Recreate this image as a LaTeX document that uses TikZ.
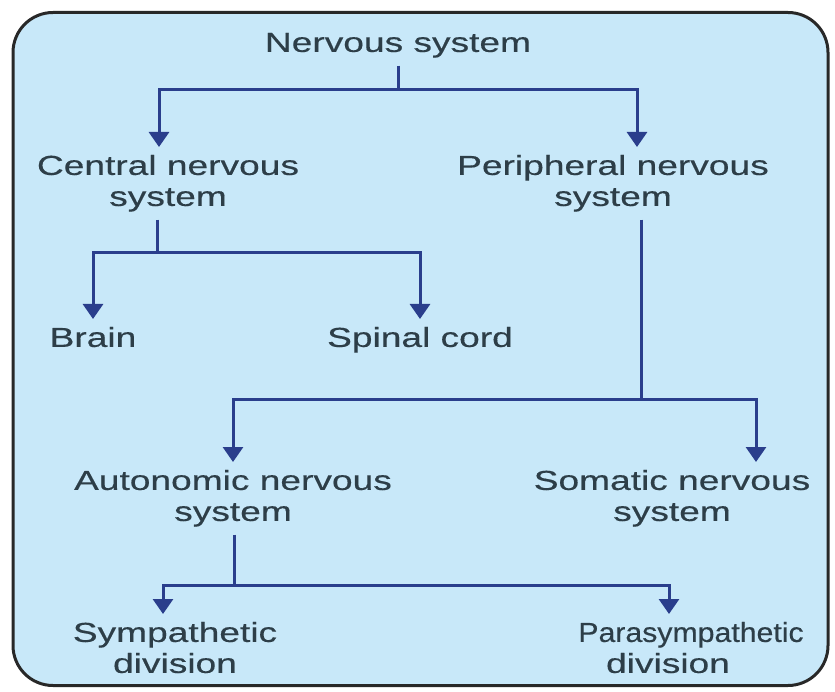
\documentclass[tikz,border=0pt]{standalone}
\usepackage{fontspec}
\setmainfont{Liberation Sans}[FakeStretch=1.35, FakeBold=0.4]
\newfontfamily\narrowfont{Liberation Sans}[FakeStretch=1.1, FakeBold=0.4]
\usetikzlibrary{arrows.meta}

\definecolor{panelblue}{RGB}{200,232,249}
\definecolor{framegray}{RGB}{40,40,40}
\definecolor{linkblue}{RGB}{42,62,140}
\definecolor{textslate}{RGB}{45,62,72}

\tikzset{
term/.style={inner sep=0pt, outer sep=8pt, align=center, text=textslate, anchor=north},
link/.style={draw=linkblue, line width=3pt},
branch/.style={link, -{Triangle[width=20pt,length=15pt]}}
}

\begin{document}
\begin{tikzpicture}[x=1pt, y=-1pt, font=\fontsize{27.5pt}{31pt}\selectfont]

\useasboundingbox (0,0) rectangle (835,692);

%%%%%%%%%%%%%%%%%%%%%%%%%%%%%%%%%%%%%%%%%%%%%%%%%%%%%%%%%%%%%%
% OUTER PANEL
%%%%%%%%%%%%%%%%%%%%%%%%%%%%%%%%%%%%%%%%%%%%%%%%%%%%%%%%%%%%%%

\node[
draw=framegray,
line width=3pt,
rounded corners=40pt,
fill=panelblue,
minimum width=815pt,
minimum height=673pt,
inner sep=0pt
](panel) at (420.5,349){};

%%%%%%%%%%%%%%%%%%%%%%%%%%%%%%%%%%%%%%%%%%%%%%%%%%%%%%%%%%%%%%
% TOP LEVEL
%%%%%%%%%%%%%%%%%%%%%%%%%%%%%%%%%%%%%%%%%%%%%%%%%%%%%%%%%%%%%%

\node[term](ns) at (398,25) {Nervous system};

\node[term](cns) at (168,147) {Central nervous\\system};

\node[term](pns) at (613,147) {Peripheral nervous\\system};

%%%%%%%%%%%%%%%%%%%%%%%%%%%%%%%%%%%%%%%%%%%%%%%%%%%%%%%%%%%%%%
% CENTRAL BRANCH
%%%%%%%%%%%%%%%%%%%%%%%%%%%%%%%%%%%%%%%%%%%%%%%%%%%%%%%%%%%%%%

\node[term](brain) at (93,319) {Brain};

\node[term](spinal) at (420,319) {Spinal cord};

%%%%%%%%%%%%%%%%%%%%%%%%%%%%%%%%%%%%%%%%%%%%%%%%%%%%%%%%%%%%%%
% PERIPHERAL BRANCH
%%%%%%%%%%%%%%%%%%%%%%%%%%%%%%%%%%%%%%%%%%%%%%%%%%%%%%%%%%%%%%

\node[term](ans) at (233,462) {Autonomic nervous\\system};

\node[term](sns) at (672,462) {Somatic nervous\\system};

\node[term](symp) at (175,614) {Sympathetic\\division};

\node[term](para) at (691,614)
{{\narrowfont Parasympathetic}\\division\hspace*{46pt}};

%%%%%%%%%%%%%%%%%%%%%%%%%%%%%%%%%%%%%%%%%%%%%%%%%%%%%%%%%%%%%%
% CONNECTIONS
%%%%%%%%%%%%%%%%%%%%%%%%%%%%%%%%%%%%%%%%%%%%%%%%%%%%%%%%%%%%%%

\coordinate (split1) at (398,90);
\coordinate (split2) at (157,253);
\coordinate (split3) at (641,399);
\coordinate (split4) at (234,585);

\draw[link] (ns) -- (split1);
\draw[branch] (split1) -| ([xshift=-9pt]cns.north);
\draw[branch] (split1) -| ([xshift=24pt]pns.north);

\draw[link] (cns.south -| split2) -- (split2);
\draw[branch] (split2) -| (brain);
\draw[branch] (split2) -| (spinal);

\draw[link] (pns.south -| split3) -- (split3);
\draw[branch] (split3) -| (ans);
\draw[branch] (split3) -| ([xshift=84pt]sns.north);

\draw[link] (ans.south -| split4) -- (split4);
\draw[branch] (split4) -| ([xshift=-12pt]symp.north);
\draw[branch] (split4) -| ([xshift=-22pt]para.north);

\end{tikzpicture}
\end{document}
